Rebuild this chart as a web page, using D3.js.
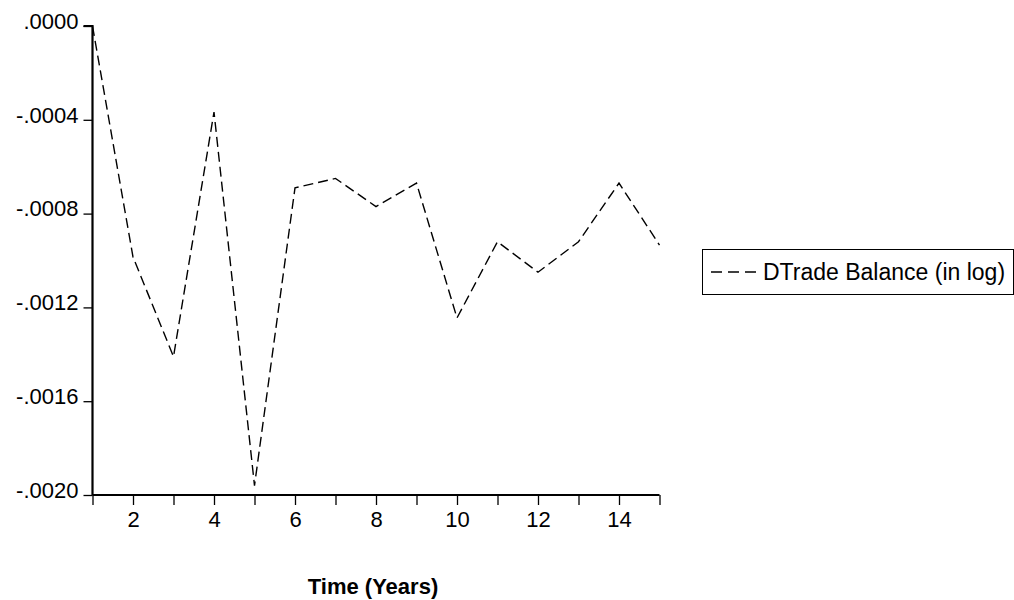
<!DOCTYPE html>
<html>
<head>
<meta charset="utf-8">
<script src="https://cdn.jsdelivr.net/npm/d3@7"></script>
<style>
  body { margin: 0; background: #fff; }
  svg { display: block; font-family: "Liberation Sans", Arial, sans-serif; }
</style>
</head>
<body>
<svg id="chart" width="1014" height="600"></svg>
<script>
// years 1..15
const years = [1, 2, 3, 4, 5, 6, 7, 8, 9, 10, 11, 12, 13, 14, 15];
const dTradeBalance = [0.0000, -0.000985, -0.00141, -0.000367, -0.00196, -0.00069, -0.00065,
  -0.00077, -0.00067, -0.001245, -0.00092, -0.00105, -0.00092, -0.00067, -0.000934];
const yTicks = [0, -0.0004, -0.0008, -0.0012, -0.0016, -0.0020];
const xLabelTicks = [2, 4, 6, 8, 10, 12, 14];
const seriesName = "DTrade Balance (in log)";

const svg = d3.select('#chart');

let x = d3.scaleLinear().domain([1, 15]).range([92.5, 659.5]);
let y = d3.scaleLinear().domain([-0.0020, 0]).range([495, 26]);

// EViews style: ".0000", "-.0004" with plain hyphen
let fmt = (v) => {
  let s = Math.abs(v).toFixed(4).replace('0.', '.');
  return v < 0 ? '-' + s : s;
};

// y axis
let yAxis = svg.append('g')
  .attr('transform', `translate(${x(1)},0)`)
  .call(d3.axisLeft(y).tickValues(yTicks).tickFormat(fmt).tickSize(9).tickPadding(5));

// x axis: ticks every year, labels on even years
let xAxis = svg.append('g')
  .attr('transform', `translate(0,${y(-0.0020)})`)
  .call(d3.axisBottom(x).tickValues(years)
    .tickFormat((d) => xLabelTicks.includes(d) ? d : '')
    .tickSize(10).tickPadding(6));

[yAxis, xAxis].forEach((g) => {
  g.select('.domain').attr('stroke', '#000').attr('stroke-width', 2.2);
  g.selectAll('.tick line').attr('stroke', '#000').attr('stroke-width', 1.3);
  g.selectAll('.tick text').attr('fill', '#000').attr('font-size', 22)
    .attr('font-family', '"Liberation Sans", Arial, sans-serif');
});
yAxis.select('.domain').attr('d', `M-9,${y(0)}H0V${y(-0.0020)}`);
xAxis.select('.domain').attr('d', `M${x(1)},0H${x(15)}`);
yAxis.selectAll('.tick text').attr('dy', '0.1em');

// series line
let line = d3.line()
  .x((d, i) => x(years[i]))
  .y((d) => y(d));

svg.append('path')
  .datum(dTradeBalance)
  .attr('d', line)
  .attr('fill', 'none')
  .attr('stroke', '#000')
  .attr('stroke-width', 1.4)
  .attr('stroke-dasharray', '10,5');

// x title
svg.append('text')
  .attr('x', 373)
  .attr('y', 594)
  .attr('text-anchor', 'middle')
  .attr('font-weight', 'bold')
  .attr('font-size', 22)
  .text('Time (Years)');

// legend
let legend = svg.append('g');
legend.append('rect')
  .attr('x', 702.5).attr('y', 249.5)
  .attr('width', 311).attr('height', 45)
  .attr('fill', '#fff').attr('stroke', '#000').attr('stroke-width', 1);
legend.append('line')
  .attr('x1', 711).attr('x2', 756)
  .attr('y1', 272).attr('y2', 272)
  .attr('stroke', '#000').attr('stroke-width', 1.4)
  .attr('stroke-dasharray', '11,6');
legend.append('text')
  .attr('x', 763).attr('y', 280)
  .attr('font-size', 23)
  .text(seriesName);
</script>
</body>
</html>
